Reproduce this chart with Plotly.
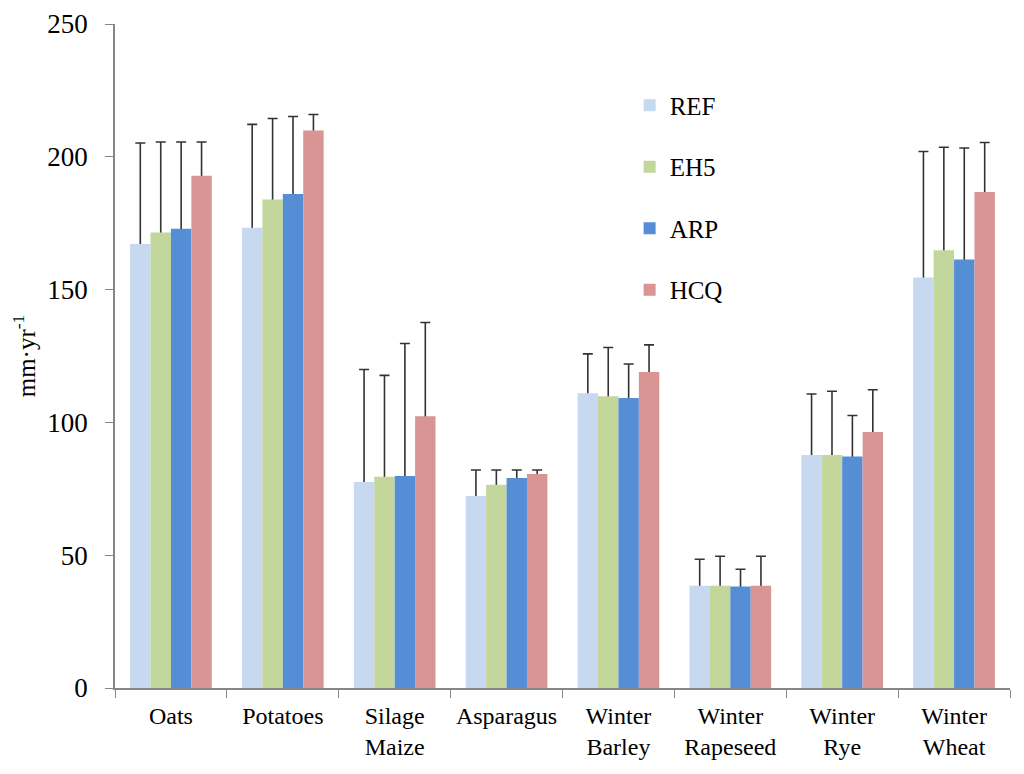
import plotly.graph_objects as go

crops = ["Oats", "Potatoes", "Silage<br>Maize", "Asparagus", "Winter<br>Barley",
         "Winter<br>Rapeseed", "Winter<br>Rye", "Winter<br>Wheat"]

# bar heights (mm/yr)
ref = [167.2, 173.3, 77.6, 72.3, 111.0, 38.5, 87.7, 154.6]
eh5 = [171.5, 183.9, 79.5, 76.5, 109.8, 38.5, 87.7, 164.8]
arp = [172.9, 186.0, 79.8, 79.1, 109.2, 38.2, 87.2, 161.3]
hcq = [192.9, 209.9, 102.3, 80.6, 119.0, 38.5, 96.4, 186.7]

# top of the error whiskers
ref_top = [205.2, 212.2, 119.9, 82.1, 125.8, 48.5, 110.7, 202.0]
eh5_top = [205.6, 214.4, 117.7, 82.1, 128.2, 49.6, 111.7, 203.6]
arp_top = [205.6, 215.2, 129.7, 82.1, 122.0, 44.7, 102.6, 203.3]
hcq_top = [205.6, 215.9, 137.6, 82.1, 129.2, 49.6, 112.3, 205.4]

series = [
    ("REF", ref, ref_top, "#c6d9f1"),
    ("EH5", eh5, eh5_top, "#c3d69b"),
    ("ARP", arp, arp_top, "#558ed5"),
    ("HCQ", hcq, hcq_top, "#d99594"),
]

fig = go.Figure()

# whiskers first on invisible bars, so the visible bars hide the lower cap
for name, vals, tops, col in series:
    fig.add_trace(go.Bar(
        x=crops, y=vals, offsetgroup=name, showlegend=False, hoverinfo="skip",
        marker=dict(color="rgba(0,0,0,0)", line=dict(width=0)),
        error_y=dict(type="data", symmetric=False,
                     array=[t - v for t, v in zip(tops, vals)],
                     arrayminus=[2] * len(vals),
                     color="#333333", thickness=1.6, width=5),
    ))

for name, vals, tops, col in series:
    fig.add_trace(go.Bar(
        x=crops, y=vals, name=name, offsetgroup=name, legendgroup=name,
        marker=dict(color=col, line=dict(width=0)),
    ))

axis_col = "#868686"
fig.update_layout(
    width=1024, height=774,
    margin=dict(l=107, r=22, t=16, b=94),
    paper_bgcolor="white", plot_bgcolor="white",
    font=dict(family="Liberation Serif, Times New Roman, serif", size=24, color="black"),
    barmode="group", bargap=0.27, bargroupgap=0,
    showlegend=True,
    legend=dict(x=0.575, y=0.912, xanchor="left", yanchor="top",
                font=dict(size=25), tracegroupgap=26,
                bgcolor="rgba(0,0,0,0)"),
    xaxis=dict(showline=True, linecolor=axis_col, linewidth=1.5, automargin=False,
               ticks="outside", tickson="boundaries", tickcolor=axis_col,
               ticklen=8, ticklabelstandoff=5, tickfont=dict(size=24)),
    yaxis=dict(range=[0, 250], dtick=50, showgrid=False, zeroline=False,
               showline=True, linecolor=axis_col, linewidth=1.5, automargin=False,
               ticks="outside", tickcolor=axis_col, ticklen=8,
               ticklabelstandoff=12,
               tickfont=dict(size=27),
               title=dict(text="mm·yr<sup>-1</sup>", font=dict(size=25), standoff=8)),
)

fig.write_html("out.html")
